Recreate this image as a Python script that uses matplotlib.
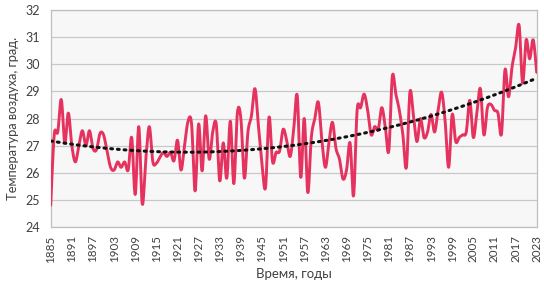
import numpy as np
import matplotlib
matplotlib.use("Agg")
import matplotlib.pyplot as plt

plt.rcParams['font.family'] = ['Lato', 'Open Sans', 'DejaVu Sans']

years = list(range(1885, 2024))
temps = [
    24.8, 27.4, 27.5, 28.7, 27.1, 28.2, 27.0, 26.4, 27.0, 27.55,   # 1885-1894
    27.0, 27.55, 26.9, 26.85, 27.45, 27.4, 26.8, 26.2, 26.1, 26.4,  # 1895-1904
    26.2, 26.4, 26.1, 27.3, 25.2, 27.7, 24.85, 26.5, 27.7, 26.4,    # 1905-1914
    26.35, 26.57, 26.75, 26.6, 26.75, 26.44, 27.2, 26.1, 27.0, 27.9, # 1915-1924
    27.8, 25.33, 27.8, 26.07, 28.1, 26.5, 27.5, 27.8, 25.7, 27.1,   # 1925-1934
    25.8, 27.9, 25.6, 28.2, 28.0, 25.8, 27.5, 28.1, 29.1, 27.7,     # 1935-1944
    26.3, 25.46, 28.05, 26.4, 26.75, 26.8, 27.6, 27.2, 26.6, 27.6,  # 1945-1954
    28.85, 25.83, 28.0, 25.27, 27.3, 28.0, 28.6, 27.2, 26.2, 27.1,  # 1955-1964
    27.86, 26.9, 26.5, 25.77, 26.1, 27.1, 25.15, 28.3, 28.4, 28.9,  # 1965-1974
    28.3, 27.4, 27.7, 27.6, 28.4, 27.7, 26.8, 29.55, 28.9, 28.3,    # 1975-1984
    27.4, 26.2, 28.97, 28.1, 27.15, 28.0, 27.3, 27.5, 28.15, 27.5,  # 1985-1994
    28.3, 28.97, 27.9, 26.2, 28.15, 27.15, 27.3, 27.4, 27.5, 28.67, # 1995-2004
    27.3, 28.2, 29.1, 27.4, 28.4, 28.52, 28.3, 28.2, 27.43, 29.8,   # 2005-2014
    28.8, 29.9, 30.6, 31.44, 29.3, 30.9, 30.2, 30.9, 29.7,          # 2015-2023
]
tick_years = list(range(1885, 2024, 6))
y_ticks = list(range(24, 33))
x_label = "Время, годы"
y_label = "Температура воздуха, град."

line_color = "#E5325E"
text_color = "#404040"
grid_color = "#C8C8C8"


def smooth_curve(x, y, n=12):
    x = np.asarray(x, float)
    y = np.asarray(y, float)
    px = np.concatenate([[x[0]], x, [x[-1]]])
    py = np.concatenate([[y[0]], y, [y[-1]]])
    xs, ys = [], []
    t = np.linspace(0, 1, n, endpoint=False)
    for i in range(1, len(px) - 2):
        p0x, p1x, p2x, p3x = px[i - 1:i + 3]
        p0y, p1y, p2y, p3y = py[i - 1:i + 3]
        c1x = p1x + (p2x - p0x) / 6
        c1y = p1y + (p2y - p0y) / 6
        c2x = p2x - (p3x - p1x) / 6
        c2y = p2y - (p3y - p1y) / 6
        bx = (1 - t) ** 3 * p1x + 3 * (1 - t) ** 2 * t * c1x + 3 * (1 - t) * t ** 2 * c2x + t ** 3 * p2x
        by = (1 - t) ** 3 * p1y + 3 * (1 - t) ** 2 * t * c1y + 3 * (1 - t) * t ** 2 * c2y + t ** 3 * p2y
        xs.extend(bx)
        ys.extend(by)
    xs.append(x[-1])
    ys.append(y[-1])
    return np.array(xs), np.array(ys)


fig = plt.figure(figsize=(5.44, 2.97), dpi=100)
ax = fig.add_axes([50.7 / 544, (297 - 227) / 297, 486 / 544, 217 / 297])
ax.set_facecolor("#F7F7F7")

sx, sy = smooth_curve(years, temps)
ax.plot(sx, sy, color=line_color, lw=2.1, solid_capstyle="round", zorder=3)

# polynomial trend line (order 2) fitted to the data
idx = np.arange(1, len(years) + 1)
coef = np.polyfit(idx, temps, 2)
trend = np.polyval(coef, idx)
ax.plot(years, trend, color="#111111", lw=2.2, linestyle=(0, (0.6, 1.6)),
        dash_capstyle="round", zorder=4)

ax.set_xlim(years[0], years[-1])
ax.set_ylim(24, 32)
ax.set_yticks(y_ticks)
ax.set_xticks(tick_years)
ax.set_xticklabels([str(t) for t in tick_years], rotation=90)
ax.yaxis.grid(True, color=grid_color, lw=0.9)
ax.set_axisbelow(True)
for s in ax.spines.values():
    s.set_color("#BFBFBF")
    s.set_linewidth(0.9)
ax.tick_params(axis="both", length=0, colors=text_color)
ax.tick_params(axis="x", pad=6, labelsize=8.4)
ax.tick_params(axis="y", pad=8, labelsize=9)
ax.set_xlabel(x_label, fontsize=9.5, color=text_color, labelpad=4)
ax.set_ylabel(y_label, fontsize=9.3, color=text_color, labelpad=4)

fig.savefig("out.png", dpi=100, facecolor="white")
